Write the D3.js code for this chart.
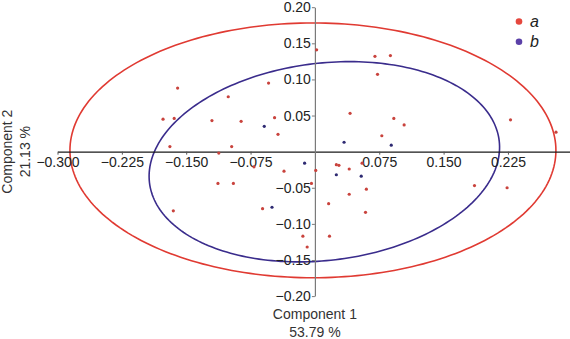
<!DOCTYPE html>
<html>
<head>
<meta charset="utf-8">
<script src="https://cdn.jsdelivr.net/npm/d3@7"></script>
<style>
  body { margin: 0; background: #fff; }
  svg { display: block; font-family: "Liberation Sans", Arial, sans-serif; }
</style>
</head>
<body>
<div id="chart"></div>
<script>
// Group a scores [component 1, component 2]
var groupA = [
    [-0.160, 0.088], [-0.054, 0.095], [-0.101, 0.076], [-0.177, 0.045], [-0.164, 0.046],
    [-0.120, 0.043], [-0.086, 0.042], [-0.047, 0.047], [-0.043, 0.024], [0.002, 0.141],
    [0.070, 0.132], [0.088, 0.133], [0.073, 0.107], [0.041, 0.053], [0.092, 0.046],
    [0.104, 0.037], [0.078, 0.022], [-0.097, 0.007], [-0.112, -0.002], [0.228, 0.044],
    [0.281, 0.027], [0.186, -0.047], [0.224, -0.050], [-0.169, 0.007], [-0.071, -0.021],
    [-0.036, -0.027], [-0.113, -0.044], [-0.095, -0.044], [-0.165, -0.082], [-0.061, -0.079],
    [0.001, -0.026], [0.025, -0.018], [0.028, -0.019], [0.040, -0.024], [0.055, -0.016],
    [0.060, -0.052], [0.040, -0.059], [-0.004, -0.044], [0.016, -0.072], [0.059, -0.084],
    [-0.014, -0.117], [0.017, -0.117], [-0.009, -0.132]
];

// Group b scores
var groupB = [
    [-0.059, 0.035], [0.034, 0.013], [0.089, 0.009], [-0.012, -0.016],
    [-0.050, -0.077], [0.025, -0.032], [0.054, -0.034]
];

// confidence ellipses: centre, semi-axes, rotation (degrees)
var ellipseA = { cx: -0.0023, cy: 0.0018, a: 0.2832, b: 0.1764, angle: 0 };
var ellipseB = { cx: 0.011, cy: -0.014, a: 0.206, b: 0.136, angle: 10 };

var xTicks = [-0.300, -0.225, -0.150, -0.075, 0.075, 0.150, 0.225];
var yTicks = [-0.20, -0.15, -0.10, -0.05, 0.05, 0.10, 0.15, 0.20];
var groups = ["a", "b"];

function init() {
    var w = 570;
    var h = 339;

    var colors = { a: "#e03a32", b: "#3a2c8c" };
    var dotColors = { a: "#c9433d", b: "#2e2a72" };
    var legendColors = { a: "#e5473d", b: "#5b40a8" };

    var x = d3.scaleLinear().domain([-0.3, 0.3]).range([57.5, 572.3]);
    var y = d3.scaleLinear().domain([-0.2, 0.2]).range([296.1, 7.2]);

    var svg = d3.select("#chart")
        .append("svg")
        .attr("width", w)
        .attr("height", h);

    // ellipses
    function ellipsePoints(e) {
        var th = e.angle * Math.PI / 180;
        return d3.range(0, 240).map(function(i) {
            var t = i / 240 * 2 * Math.PI;
            return [
                e.cx + e.a * Math.cos(t) * Math.cos(th) - e.b * Math.sin(t) * Math.sin(th),
                e.cy + e.a * Math.cos(t) * Math.sin(th) + e.b * Math.sin(t) * Math.cos(th)
            ];
        });
    }
    var line = d3.line()
        .x(function(d) { return x(d[0]); })
        .y(function(d) { return y(d[1]); })
        .curve(d3.curveLinearClosed);

    svg.append("path")
        .attr("d", line(ellipsePoints(ellipseA)))
        .attr("fill", "none")
        .attr("stroke", colors.a)
        .attr("stroke-width", 1.6);

    svg.append("path")
        .attr("d", line(ellipsePoints(ellipseB)))
        .attr("fill", "none")
        .attr("stroke", colors.b)
        .attr("stroke-width", 1.6);

    // x axis through y = 0
    var xAxis = svg.append("g")
        .attr("transform", "translate(0," + y(0) + ")")
        .call(d3.axisBottom(x).tickValues(xTicks).tickFormat(d3.format(".3f"))
            .tickSize(3).tickSizeOuter(0));
    xAxis.select(".domain").attr("stroke", "#1a1a1a").attr("stroke-width", 1.2);
    xAxis.selectAll(".tick line").attr("stroke", "#555");
    xAxis.selectAll(".tick text")
        .attr("y", 5)
        .attr("font-size", 14)
        .attr("font-family", "Liberation Sans, Arial, sans-serif")
        .attr("fill", "#222");

    // y axis through x = 0
    var yAxis = svg.append("g")
        .attr("transform", "translate(" + x(0) + ",0)")
        .call(d3.axisLeft(y).tickValues(yTicks).tickFormat(d3.format(".2f"))
            .tickSize(3).tickSizeOuter(0));
    yAxis.select(".domain").attr("stroke", "#7a7a7a").attr("stroke-width", 1.2);
    yAxis.selectAll(".tick line").attr("stroke", "#7a7a7a");
    yAxis.selectAll(".tick text")
        .attr("x", -4)
        .attr("font-size", 14)
        .attr("font-family", "Liberation Sans, Arial, sans-serif")
        .attr("fill", "#222");

    // points
    svg.selectAll("circle.pa")
        .data(groupA)
        .enter()
        .append("circle")
        .attr("class", "pa")
        .attr("cx", function(d) { return x(d[0]); })
        .attr("cy", function(d) { return y(d[1]); })
        .attr("r", 1.6)
        .attr("fill", dotColors.a);

    svg.selectAll("circle.pb")
        .data(groupB)
        .enter()
        .append("circle")
        .attr("class", "pb")
        .attr("cx", function(d) { return x(d[0]); })
        .attr("cy", function(d) { return y(d[1]); })
        .attr("r", 1.6)
        .attr("fill", dotColors.b);

    // axis titles
    svg.append("text")
        .attr("x", x(0))
        .attr("y", 319)
        .attr("text-anchor", "middle")
        .attr("font-size", 14)
        .attr("fill", "#333")
        .text("Component 1");
    svg.append("text")
        .attr("x", x(0))
        .attr("y", 337)
        .attr("text-anchor", "middle")
        .attr("font-size", 14)
        .attr("fill", "#333")
        .text("53.79 %");

    svg.append("text")
        .attr("transform", "translate(12," + y(0) + ") rotate(-90)")
        .attr("text-anchor", "middle")
        .attr("font-size", 14)
        .attr("fill", "#333")
        .text("Component 2");
    svg.append("text")
        .attr("transform", "translate(30," + y(0) + ") rotate(-90)")
        .attr("text-anchor", "middle")
        .attr("font-size", 14)
        .attr("fill", "#333")
        .text("21.13 %");

    // legend
    var legend = svg.selectAll("g.legend")
        .data(groups)
        .enter()
        .append("g")
        .attr("class", "legend")
        .attr("transform", function(d, i) { return "translate(519," + (21.5 + i * 20.3) + ")"; });
    legend.append("circle")
        .attr("r", 3.3)
        .attr("fill", function(d) { return legendColors[d]; });
    legend.append("text")
        .attr("x", 11)
        .attr("y", 5)
        .attr("font-size", 16)
        .attr("font-style", "italic")
        .attr("fill", "#222")
        .text(function(d) { return d; });
}

window.onload = init;
</script>
</body>
</html>
